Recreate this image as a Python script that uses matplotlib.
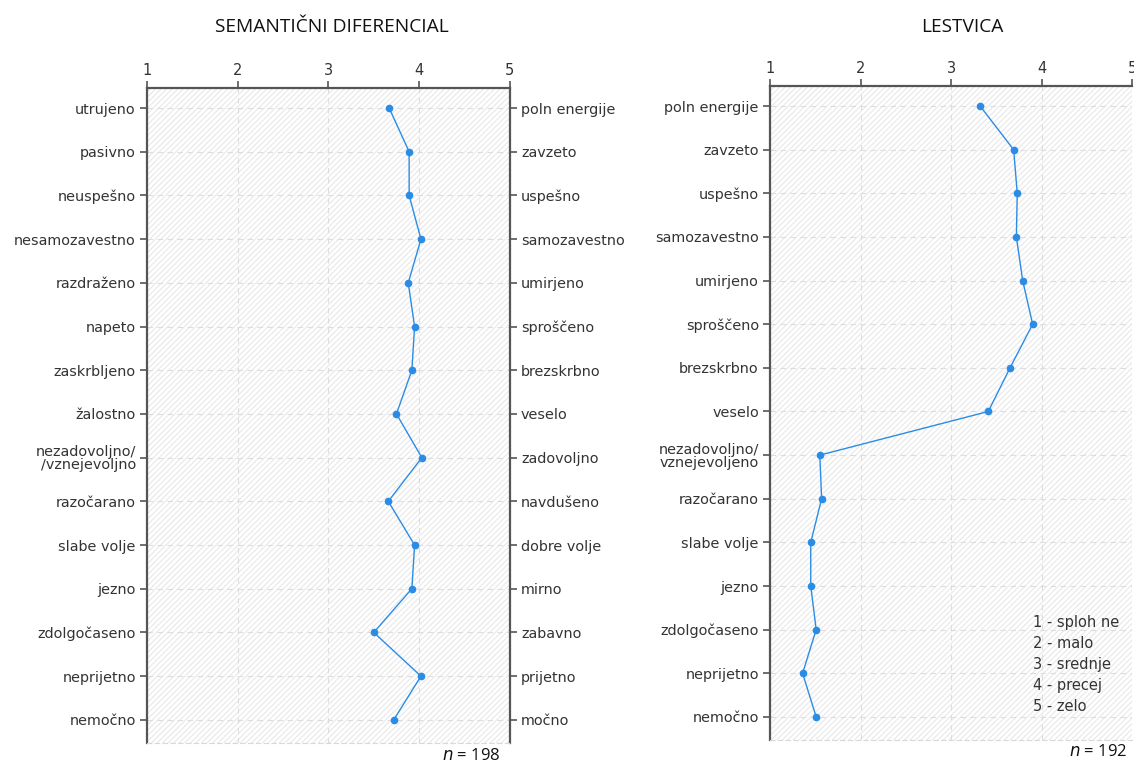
import matplotlib
matplotlib.use("Agg")
import matplotlib.pyplot as plt
import matplotlib as mpl

mpl.rcParams['hatch.color'] = '#e3e3e3'
mpl.rcParams['hatch.linewidth'] = 0.8

left_neg = ["utrujeno", "pasivno", "neuspešno", "nesamozavestno", "razdraženo",
            "napeto", "zaskrbljeno", "žalostno", "nezadovoljno/\n/vznejevoljno",
            "razočarano", "slabe volje", "jezno", "zdolgočaseno", "neprijetno", "nemočno"]
left_pos = ["poln energije", "zavzeto", "uspešno", "samozavestno", "umirjeno",
            "sproščeno", "brezskrbno", "veselo", "zadovoljno", "navdušeno",
            "dobre volje", "mirno", "zabavno", "prijetno", "močno"]
left_vals = [3.67, 3.89, 3.89, 4.02, 3.88, 3.95, 3.92, 3.75, 4.03, 3.66,
             3.95, 3.92, 3.50, 4.02, 3.72]

right_items = ["poln energije", "zavzeto", "uspešno", "samozavestno", "umirjeno",
               "sproščeno", "brezskrbno", "veselo", "nezadovoljno/\nvznejevoljeno",
               "razočarano", "slabe volje", "jezno", "zdolgočaseno", "neprijetno", "nemočno"]
right_vals = [3.32, 3.69, 3.73, 3.72, 3.79, 3.90, 3.65, 3.41, 1.55, 1.57,
              1.45, 1.45, 1.51, 1.36, 1.51]

x_ticks = [1, 2, 3, 4, 5]
scale_legend = ["1 - sploh ne", "2 - malo", "3 - srednje", "4 - precej", "5 - zelo"]

line_color = '#2b8ce6'
spine_color = '#555555'
grid_color = '#dddddd'
LBL = 10.4

fig = plt.figure(figsize=(11.34, 7.63), dpi=100)

def style_axes(ax, ylabels, right_labels=None):
    n = len(ylabels)
    ax.set_xlim(1, 5)
    ax.set_ylim(n - 1 + 0.53, -0.46)
    ax.add_patch(mpl.patches.Rectangle((0, 0), 1, 1, transform=ax.transAxes,
                                       facecolor='white', edgecolor='#e8e8e8',
                                       hatch='//////', linewidth=0, zorder=0))
    ax.set_xticks(x_ticks)
    ax.xaxis.tick_top()
    ax.tick_params(axis='x', which='both', top=True, bottom=False, labeltop=True,
                   labelbottom=False, length=5, width=1.2, color=spine_color,
                   labelsize=10.5, labelcolor='#333333', pad=2)
    ax.set_yticks(range(n))
    ax.set_yticklabels(ylabels, fontsize=LBL, color='#333333', linespacing=0.9)
    ax.tick_params(axis='y', length=5, width=1.2, color=spine_color, pad=3)
    ax.grid(True, linestyle=(0, (5, 4)), color=grid_color, linewidth=0.8)
    ax.set_axisbelow(True)
    for s in ['top', 'left']:
        ax.spines[s].set_color(spine_color)
        ax.spines[s].set_linewidth(1.6)
    ax.spines['bottom'].set_color('#d8d8d8')
    ax.spines['bottom'].set_linestyle((0, (4, 3)))
    ax.spines['bottom'].set_linewidth(0.8)
    if right_labels is not None:
        ax.spines['right'].set_color(spine_color)
        ax.spines['right'].set_linewidth(1.6)
        ax2 = ax.twinx()
        ax2.set_ylim(ax.get_ylim())
        ax2.set_yticks(range(n))
        ax2.set_yticklabels(right_labels, fontsize=LBL, color='#333333')
        ax2.tick_params(axis='y', length=5, width=1.2, color=spine_color, pad=3)
        for s in ['top', 'left', 'bottom', 'right']:
            ax2.spines[s].set_visible(False)
    else:
        ax.spines['right'].set_visible(False)

axL = fig.add_axes([0.1296, 0.0262, 0.320, 0.8585])
style_axes(axL, left_neg, left_pos)
axL.plot(left_vals, range(len(left_vals)), color=line_color, linewidth=1.0,
         marker='o', markersize=4.5, zorder=3, clip_on=False)

axR = fig.add_axes([0.679, 0.0301, 0.3195, 0.8572])
style_axes(axR, right_items)
axR.plot(right_vals, range(len(right_vals)), color=line_color, linewidth=1.0,
         marker='o', markersize=4.5, zorder=3, clip_on=False)

fig.text(332 / 1134, 1 - 27 / 763, "SEMANTIČNI DIFERENCIAL", ha='center', va='center',
         fontsize=13.8, family='Open Sans', color='#111111')
fig.text(962 / 1134, 1 - 27 / 763, "LESTVICA", ha='center', va='center',
         fontsize=13.8, family='Open Sans', color='#111111')

for i, t in enumerate(scale_legend):
    fig.text(1033 / 1134, 1 - (623 + i * 20.8) / 763, t, ha='left', va='center',
             fontsize=10.5, color='#333333')

fig.text(500 / 1134, 1 - 756 / 763, r"$\it{n}$ = 198", ha='right', va='center',
         fontsize=12, family='Open Sans', color='#111111')
fig.text(1127 / 1134, 1 - 752 / 763, r"$\it{n}$ = 192", ha='right', va='center',
         fontsize=12, family='Open Sans', color='#111111')

fig.savefig("out.png", dpi=100)
